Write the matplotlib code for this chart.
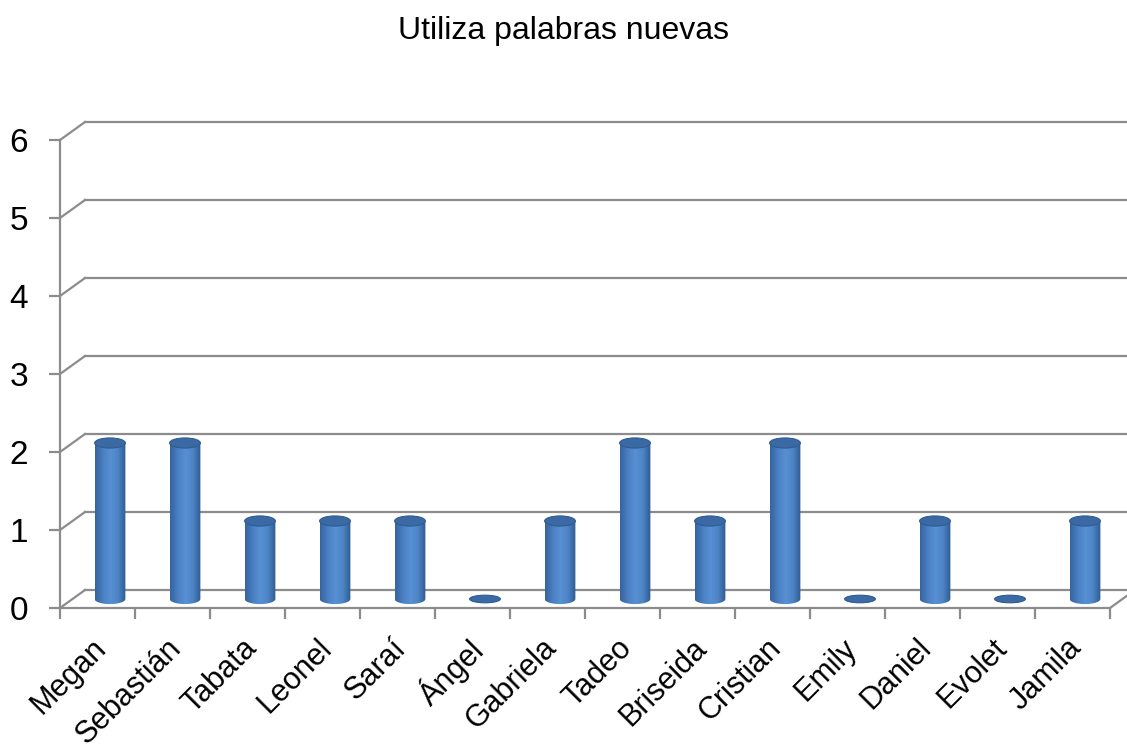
import numpy as np
import matplotlib
matplotlib.use("Agg")
import matplotlib.pyplot as plt
from matplotlib.patches import Ellipse, PathPatch
from matplotlib.path import Path

plt.rcParams['font.family'] = ['Liberation Sans', 'DejaVu Sans']

# datos
nombres = ["Megan", "Sebastián", "Tabata", "Leonel", "Saraí", "Ángel", "Gabriela",
           "Tadeo", "Briseida", "Cristian", "Emily", "Daniel", "Evolet", "Jamila"]
valores = [2, 2, 1, 1, 1, 0, 1, 2, 1, 2, 0, 1, 0, 1]
titulo = "Utiliza palabras nuevas"

fig = plt.figure(figsize=(11.27, 7.49), dpi=100)
ax = fig.add_axes([60 / 1127, 141 / 749, 1050 / 1127, 468 / 749])
n = len(nombres)
ax.set_xlim(0, n)
ax.set_ylim(0, 6)

gris = "#8c8c8c"
# profundidad (efecto 3D)
dx = 25 / 75
dy = 18 / 78

# pared del fondo y piso
for v in range(0, 7):
    ax.plot([dx, n + dx + 1], [v + dy, v + dy], color=gris, lw=1.6, clip_on=False, zorder=1)
    ax.plot([0, dx], [v, v + dy], color=gris, lw=1.6, clip_on=False, zorder=1)
ax.plot([n, n + dx], [0, dy], color=gris, lw=1.6, clip_on=False, zorder=1)

# ejes frontales
for s in ["top", "right"]:
    ax.spines[s].set_visible(False)
for s in ["left", "bottom"]:
    ax.spines[s].set_color(gris)
    ax.spines[s].set_linewidth(1.6)
ax.set_yticks(range(0, 7))
ax.tick_params(axis="y", colors=gris, length=8, width=1.6, labelsize=24, labelcolor="black", pad=15)
ax.set_xticks(range(0, n + 1))
ax.set_xticklabels([])
ax.tick_params(axis="x", colors=gris, length=8, width=1.6)
ax.set_xticks(np.arange(n) + 0.42, minor=True)
ax.set_xticklabels(nombres, minor=True, rotation=45, ha="right", va="top",
                   rotation_mode="anchor", fontsize=22)
ax.tick_params(axis="x", which="minor", length=0, pad=18)

# cilindros
w = 0.41
eh = 0.13
cmap = matplotlib.colors.LinearSegmentedColormap.from_list(
    "cil", ["#3564a0", "#4a7fc2", "#5890d4", "#4d84c6", "#2f5b90"])
grad = np.linspace(0, 1, 64).reshape(1, -1)
for i, v in enumerate(valores):
    cx = i + 0.5 + dx / 2
    base = dy / 2
    if v == 0:
        ax.add_patch(Ellipse((cx, base), w, eh * 0.75, facecolor="#3b6aa5",
                             edgecolor="#2e5a8f", lw=0.8, zorder=3))
        continue
    top = v + base
    # cuerpo con la mitad inferior de la elipse
    t = np.linspace(np.pi, 2 * np.pi, 40)
    xs = list(cx + w / 2 * np.cos(t)) + [cx + w / 2, cx - w / 2]
    ys = list(base + eh / 2 * np.sin(t)) + [top, top]
    path = Path(np.column_stack([xs, ys]))
    patch = PathPatch(path, facecolor="none", edgecolor="none")
    ax.add_patch(patch)
    im = ax.imshow(grad, cmap=cmap, aspect="auto", extent=[cx - w / 2, cx + w / 2, base - eh, top],
                   zorder=3, interpolation="bilinear")
    im.set_clip_path(patch)
    ax.add_patch(Ellipse((cx, top), w, eh, facecolor="#3b69a3", edgecolor="#2f5c93",
                         lw=0.8, zorder=4))

ax.set_xlim(0, n)
ax.set_ylim(0, 6)

fig.text(0.5, 1 - 31 / 749, titulo, ha="center", va="center", fontsize=23)

fig.savefig("out.png", dpi=100)
